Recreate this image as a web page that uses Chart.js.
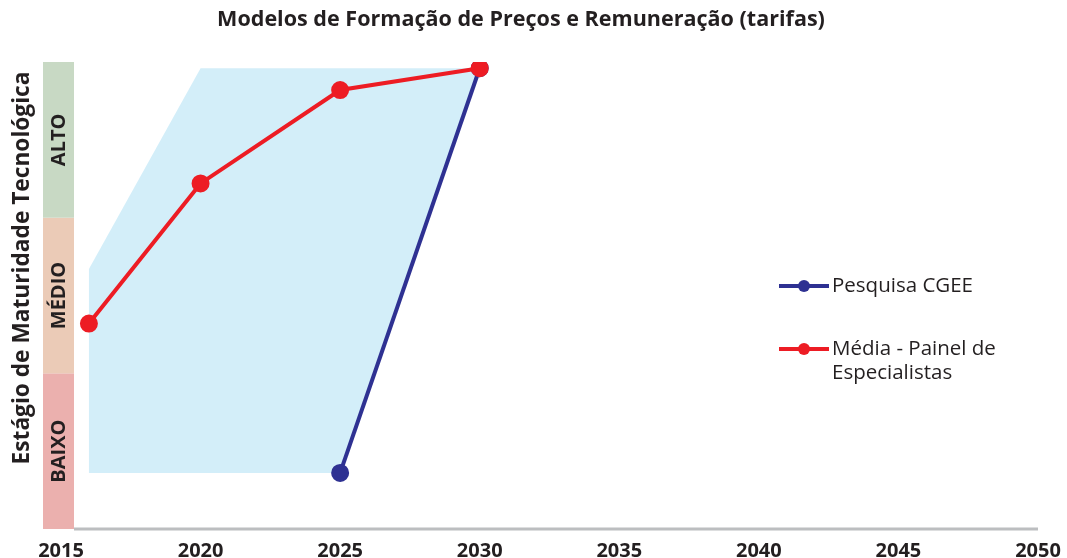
<!DOCTYPE html>
<html><head><meta charset="utf-8">
<script src="https://cdn.jsdelivr.net/npm/chart.js@4/dist/chart.umd.min.js"></script>
<style>html,body{margin:0;padding:0;background:#fff}canvas{display:block}</style>
</head><body><canvas id="c" width="1067" height="558"></canvas>
<script>
const chartTitle = 'Modelos de Formação de Preços e Remuneração (tarifas)';
const yTitle = 'Estágio de Maturidade Tecnológica';
const xTicks = [2015, 2020, 2025, 2030, 2035, 2040, 2045, 2050];
const levels = ['BAIXO', 'MÉDIO', 'ALTO'];
const levelColors = ['#ebb0ae', '#ebcbb7', '#c8d9c4'];
const cgeeLabel = 'Pesquisa CGEE';
const cgeeYears = [2025, 2030];
const cgeeValues = [0.36, 2.96];
const painelLabel = ['Média - Painel de', 'Especialistas'];
const painelYears = [2016, 2020, 2025, 2030];
const painelValues = [1.32, 2.22, 2.82, 2.96];
const rangeYears = [2016, 2016, 2020, 2030, 2025];
const rangeValues = [0.36, 1.67, 2.96, 2.96, 0.36];

const toPts = (xs, ys) => xs.map((x, i) => ({x: x, y: ys[i]}));
const INK = '#231f20';
const FONT = '"Open Sans", Lato, sans-serif';

function fitText(ctx, text, weight, target) {
  ctx.font = weight + ' 20px ' + FONT;
  const w = ctx.measureText(text).width;
  const size = 20 * target / w;
  ctx.font = weight + ' ' + size.toFixed(2) + 'px ' + FONT;
}

const decor = {
  id: 'decor',
  beforeDatasetsDraw(chart) {
    const {ctx, chartArea: a, scales: {x, y}} = chart;
    const bandRight = a.left + 13, bandLeft = bandRight - 31;
    ctx.save();
    levels.forEach((lv, i) => {
      const top = y.getPixelForValue(i + 1), bot = y.getPixelForValue(i);
      ctx.fillStyle = levelColors[i];
      ctx.fillRect(bandLeft, top, bandRight - bandLeft, bot - top);
      ctx.save();
      ctx.translate((bandLeft + bandRight) / 2, (top + bot) / 2);
      ctx.rotate(-Math.PI / 2);
      ctx.fillStyle = INK;
      ctx.font = 'bold 20px ' + FONT;
      ctx.textAlign = 'center';
      ctx.textBaseline = 'middle';
      ctx.fillText(lv, 0, 1);
      ctx.restore();
    });
    ctx.strokeStyle = '#bcbec0';
    ctx.lineWidth = 3;
    ctx.beginPath();
    ctx.moveTo(bandRight, a.bottom);
    ctx.lineTo(x.getPixelForValue(2050), a.bottom);
    ctx.stroke();
    ctx.fillStyle = INK;
    ctx.textAlign = 'center';
    ctx.textBaseline = 'middle';
    fitText(ctx, chartTitle, 'bold', 608);
    ctx.fillText(chartTitle, 521, 20);
    ctx.save();
    ctx.translate(23, 268);
    ctx.rotate(-Math.PI / 2);
    fitText(ctx, yTitle, 'bold', 393);
    ctx.fillText(yTitle, 0, 0);
    ctx.restore();
    ctx.restore();
  },
  afterDraw(chart) {
    const {ctx} = chart;
    const items = chart.data.datasets.filter(d => d.legendLines).sort((p, q) => p.legendRank - q.legendRank);
    const rows = [286, 349];
    ctx.save();
    items.forEach((d, i) => {
      const yy = rows[i];
      ctx.strokeStyle = d.borderColor;
      ctx.lineWidth = 4;
      ctx.beginPath(); ctx.moveTo(779, yy); ctx.lineTo(829, yy); ctx.stroke();
      ctx.fillStyle = d.borderColor;
      ctx.beginPath(); ctx.arc(804, yy, 6, 0, Math.PI * 2); ctx.fill();
      ctx.fillStyle = INK;
      ctx.font = '20.5px ' + FONT;
      ctx.textAlign = 'left';
      ctx.textBaseline = 'middle';
      d.legendLines.forEach((t, j) => ctx.fillText(t, 832, yy + j * 24));
    });
    ctx.restore();
  }
};

new Chart(document.getElementById('c'), {
  type: 'scatter',
  data: {
    datasets: [
      {
        label: painelLabel.join(' '), legendLines: painelLabel, legendRank: 1,
        data: toPts(painelYears, painelValues), showLine: true,
        borderColor: '#ed1c24', backgroundColor: '#ed1c24',
        borderWidth: 4, pointRadius: 7, pointHoverRadius: 7, order: 0
      },
      {
        label: cgeeLabel, legendLines: [cgeeLabel], legendRank: 0,
        data: toPts(cgeeYears, cgeeValues), showLine: true,
        borderColor: '#2e3192', backgroundColor: '#2e3192',
        borderWidth: 4, pointRadius: 7, pointHoverRadius: 7, order: 1
      },
      {
        label: 'range',
        data: toPts(rangeYears, rangeValues), showLine: true,
        fill: 'shape', borderWidth: 0, borderColor: 'rgba(0,0,0,0)',
        backgroundColor: '#d3eef9', pointRadius: 0, pointHoverRadius: 0, order: 2
      }
    ]
  },
  options: {
    responsive: false, animation: false,
    layout: {autoPadding: false, padding: {left: 61, right: 29, top: 62, bottom: -15}},
    plugins: {legend: {display: false}, tooltip: {enabled: false}, title: {display: false}},
    scales: {
      x: {
        type: 'linear', min: 2015, max: 2050,
        grid: {display: false, drawTicks: false}, border: {display: false},
        afterBuildTicks: s => { s.ticks = xTicks.map(v => ({value: v})); },
        afterFit: s => { s.paddingLeft = 0; s.paddingRight = 0; },
        ticks: {
          callback: v => String(v), color: INK, padding: 12, maxRotation: 0, autoSkip: false,
          font: {family: FONT, size: 20, weight: 'bold', lineHeight: 1}
        }
      },
      y: {min: 0, max: 3, display: false}
    }
  },
  plugins: [decor]
});
</script>
</body></html>
